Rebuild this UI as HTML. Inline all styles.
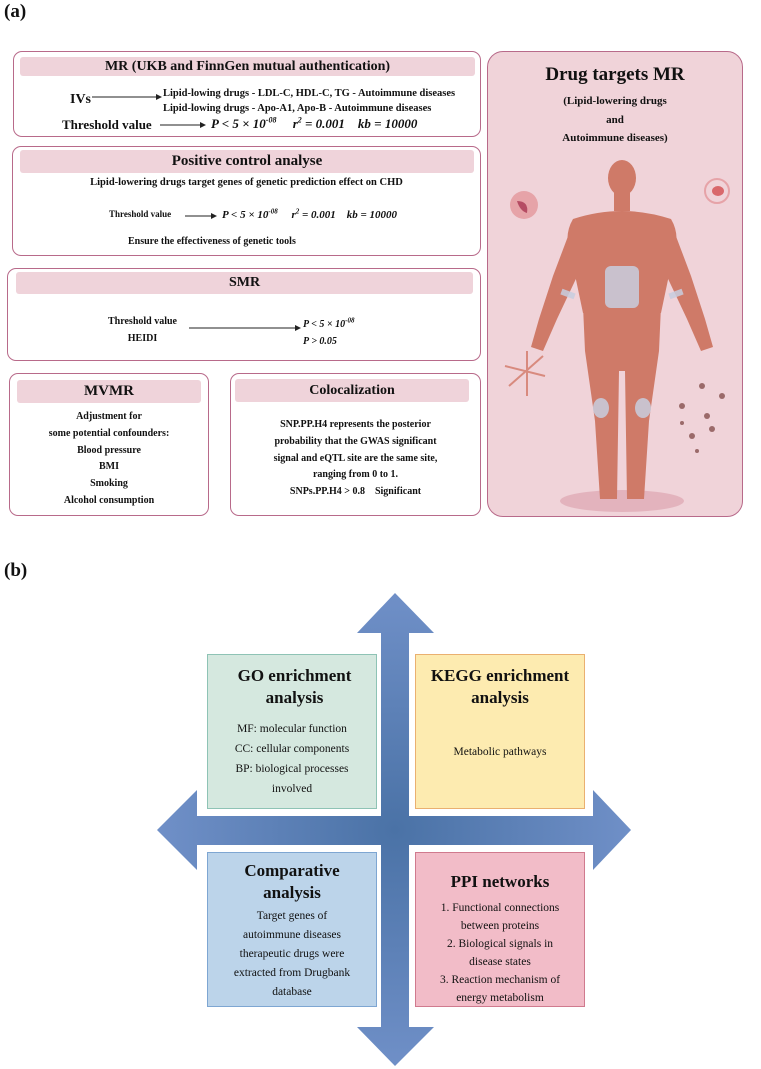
<!DOCTYPE html>
<html><head><meta charset="utf-8"><style>
body{margin:0;width:761px;height:1069px;background:#fff;position:relative;overflow:hidden;font-family:"Liberation Serif",serif;color:#111}
.a{position:absolute}
.box{position:absolute;border:1.3px solid #b86a8a;border-radius:9px;box-sizing:border-box;background:#fff}
.hd{position:absolute;background:#efd3da;border-radius:3px;font-weight:bold;text-align:center;color:#111}
.b{font-weight:bold}
.c{text-align:center}
i{font-style:italic;font-weight:bold}
.q{position:absolute;box-sizing:border-box;text-align:center;border:1.3px solid}
</style></head><body>
<div class="a b" style="left:4px;top:1px;font-size:19px">(a)</div>
<div class="a b" style="left:4px;top:560px;font-size:19px">(b)</div>

<!-- MR box -->
<div class="box" style="left:13px;top:51px;width:468px;height:86px"></div>
<div class="hd" style="left:20px;top:57px;width:455px;height:19px;font-size:14px;line-height:19px">MR (UKB and FinnGen mutual authentication)</div>
<div class="a b" style="left:70px;top:92px;font-size:14px">IVs</div>
<svg class="a" style="left:90px;top:92px" width="75" height="12"><line x1="2" y1="5" x2="70" y2="5" stroke="#222" stroke-width="1"/><path d="M66 2 L72 5 L66 8Z" fill="#222"/></svg>
<div class="a b" style="left:163px;top:86px;font-size:10.5px;line-height:15px">Lipid-lowing drugs - LDL-C, HDL-C, TG - Autoimmune diseases<br>Lipid-lowing drugs - Apo-A1, Apo-B - Autoimmune diseases</div>
<div class="a b" style="left:62px;top:117px;font-size:13px">Threshold value</div>
<svg class="a" style="left:160px;top:119px" width="48" height="12"><line x1="0" y1="6" x2="44" y2="6" stroke="#222"/><path d="M40 3 L46 6 L40 9Z" fill="#222"/></svg>
<div class="a" style="left:211px;top:116px;font-size:13px;white-space:pre"><i>P &lt; 5 × 10<sup style="font-size:8px">-08</sup>     r<sup style="font-size:8px">2</sup> = 0.001    kb = 10000</i></div>

<!-- positive control -->
<div class="box" style="left:12px;top:146px;width:469px;height:110px"></div>
<div class="hd" style="left:20px;top:150px;width:454px;height:23px;font-size:15px;line-height:23px">Positive control analyse</div>
<div class="a b c" style="left:12px;top:177px;width:469px;font-size:10.5px">Lipid-lowering drugs target genes of genetic prediction effect on CHD</div>
<div class="a b" style="left:109px;top:209px;font-size:9px">Threshold value</div>
<svg class="a" style="left:185px;top:210px" width="34" height="12"><line x1="0" y1="6" x2="30" y2="6" stroke="#222"/><path d="M26 3 L32 6 L26 9Z" fill="#222"/></svg>
<div class="a" style="left:222px;top:207px;font-size:11px;white-space:pre"><i>P &lt; 5 × 10<sup style="font-size:7px">-08</sup>     r<sup style="font-size:7px">2</sup> = 0.001    kb = 10000</i></div>
<div class="a b" style="left:128px;top:236px;font-size:10px">Ensure the effectiveness of genetic tools</div>

<!-- SMR -->
<div class="box" style="left:7px;top:268px;width:474px;height:93px"></div>
<div class="hd" style="left:16px;top:272px;width:457px;height:22px;font-size:14px;line-height:22px">SMR</div>
<div class="a b c" style="left:90px;top:313px;width:105px;font-size:10px;line-height:17px">Threshold value<br>HEIDI</div>
<svg class="a" style="left:189px;top:322px" width="115" height="12"><line x1="0" y1="6" x2="110" y2="6" stroke="#222"/><path d="M106 3 L112 6 L106 9Z" fill="#222"/></svg>
<div class="a" style="left:303px;top:313px;font-size:10px;line-height:17px"><i>P &lt; 5 × 10<sup style="font-size:7px">-08</sup></i><br><i>P &gt; 0.05</i></div>

<!-- MVMR -->
<div class="box" style="left:9px;top:373px;width:200px;height:143px"></div>
<div class="hd" style="left:17px;top:380px;width:184px;height:23px;font-size:15px;line-height:23px">MVMR</div>
<div class="a b c" style="left:9px;top:409px;width:200px;font-size:10px;line-height:16.8px">Adjustment for<br>some potential confounders:<br>Blood pressure<br>BMI<br>Smoking<br>Alcohol consumption</div>

<!-- Colocalization -->
<div class="box" style="left:230px;top:373px;width:251px;height:143px"></div>
<div class="hd" style="left:235px;top:379px;width:234px;height:23px;font-size:14px;line-height:23px">Colocalization</div>
<div class="a b c" style="left:232px;top:417px;width:247px;font-size:10px;line-height:16.8px">SNP.PP.H4 represents the posterior<br>probability that the GWAS significant<br>signal and eQTL site are the same site,<br>ranging from 0 to 1.<br>SNPs.PP.H4 &gt; 0.8&nbsp;&nbsp;&nbsp; Significant</div>

<!-- right panel -->
<div class="box" style="left:487px;top:51px;width:256px;height:466px;background:#f0d3d9;border-radius:16px"></div>
<div class="a b c" style="left:487px;top:64px;width:256px;font-size:19px">Drug targets MR</div>
<div class="a b c" style="left:487px;top:92px;width:256px;font-size:11px;line-height:18.5px">(Lipid-lowering drugs<br>and<br>Autoimmune diseases)</div>
<svg class="a" style="left:487px;top:51px" width="256" height="466">
 <ellipse cx="135" cy="450" rx="62" ry="11" fill="#e3b3bd"/>
 <g fill="#cf7a68">
  <ellipse cx="135" cy="127" rx="14" ry="18"/>
  <rect x="127" y="140" width="16" height="20"/>
  <path d="M86 168 Q135 152 184 168 Q194 185 186 205 L174 262 L96 262 L84 205 Q76 185 86 168Z"/>
  <path d="M86 172 L66 225 L52 268 L44 296 L56 300 L70 268 L95 215Z"/>
  <path d="M184 172 L204 225 L218 268 L226 296 L214 300 L200 268 L175 215Z"/>
  <path d="M96 255 L174 255 L172 300 L162 370 L157 448 L140 448 L138 320 L132 320 L130 448 L113 448 L108 370 L98 300Z"/>
 </g>
 <g fill="#c8cedf" opacity=".85">
  <rect x="118" y="215" width="34" height="42" rx="6"/>
  <ellipse cx="114" cy="357" rx="8" ry="10"/>
  <ellipse cx="156" cy="357" rx="8" ry="10"/>
  <rect x="74" y="240" width="14" height="6" transform="rotate(20 81 243)"/>
  <rect x="182" y="240" width="14" height="6" transform="rotate(-20 189 243)"/>
 </g>
 <circle cx="37" cy="154" r="14" fill="#e6a3a8"/><path d="M30 150 Q42 150 40 162 Q33 160 30 150Z" fill="#b54c63"/>
 <circle cx="230" cy="140" r="12" fill="none" stroke="#e6a3a8" stroke-width="2"/><ellipse cx="231" cy="140" rx="6" ry="5" fill="#d9686c"/>
 <g stroke="#d88a7e" stroke-width="2"><line x1="18" y1="315" x2="58" y2="325"/><line x1="22" y1="335" x2="56" y2="305"/><line x1="40" y1="300" x2="40" y2="345"/></g>
 <g fill="#9b6a6a"><circle cx="215" cy="335" r="3"/><circle cx="235" cy="345" r="3"/><circle cx="195" cy="355" r="3"/><circle cx="220" cy="365" r="3"/><circle cx="205" cy="385" r="3"/><circle cx="225" cy="378" r="3"/><circle cx="210" cy="400" r="2"/><circle cx="195" cy="372" r="2"/></g>
</svg>

<!-- cross arrow -->
<svg class="a" style="left:0;top:0" width="761" height="1069">
 <defs>
  <radialGradient id="g" cx="395" cy="830" r="240" gradientUnits="userSpaceOnUse"><stop offset="0" stop-color="#4a72a6"/><stop offset="1" stop-color="#7090c8"/></radialGradient>
 </defs>
 <path d="M395 593 L434 633 L409 633 L409 816 L593 816 L593 790 L631 830 L593 870 L593 845 L409 845 L409 1027 L434 1027 L395 1066 L357 1027 L381 1027 L381 845 L197 845 L197 870 L157 830 L197 790 L197 816 L381 816 L381 633 L357 633Z" fill="url(#g)"/>
</svg>
<div class="q" style="left:207px;top:654px;width:170px;height:155px;background:#d5e8df;border-color:#8ec3b5;box-shadow:0 0 0 4px #fff"></div>
<div class="q" style="left:415px;top:654px;width:170px;height:155px;background:#fdebb0;border-color:#eab070;box-shadow:0 0 0 4px #fff"></div>
<div class="q" style="left:207px;top:852px;width:170px;height:155px;background:#bcd4ea;border-color:#7ea6d2;box-shadow:0 0 0 4px #fff"></div>
<div class="q" style="left:415px;top:852px;width:170px;height:155px;background:#f2bcc8;border-color:#d07a8e;box-shadow:0 0 0 4px #fff"></div>

<div class="a b c" style="left:207px;top:665px;width:175px;font-size:17px;line-height:22px">GO enrichment<br>analysis</div>
<div class="a c" style="left:207px;top:719px;width:170px;font-size:11.5px;line-height:20px">MF: molecular function<br>CC: cellular components<br>BP: biological processes<br>involved</div>
<div class="a b c" style="left:415px;top:665px;width:170px;font-size:17px;line-height:22px">KEGG enrichment<br>analysis</div>
<div class="a c" style="left:415px;top:746px;width:170px;font-size:11.5px">Metabolic pathways</div>
<div class="a b c" style="left:207px;top:860px;width:170px;font-size:17px;line-height:22px">Comparative<br>analysis</div>
<div class="a c" style="left:207px;top:907px;width:170px;font-size:11.5px;line-height:19px">Target genes of<br>autoimmune diseases<br>therapeutic drugs were<br>extracted from Drugbank<br>database</div>
<div class="a b c" style="left:415px;top:872px;width:170px;font-size:17px">PPI networks</div>
<div class="a c" style="left:415px;top:899px;width:170px;font-size:11.5px;line-height:18px">1. Functional connections<br>between proteins<br>2. Biological signals in<br>disease states<br>3. Reaction mechanism of<br>energy metabolism</div>
</body></html>
